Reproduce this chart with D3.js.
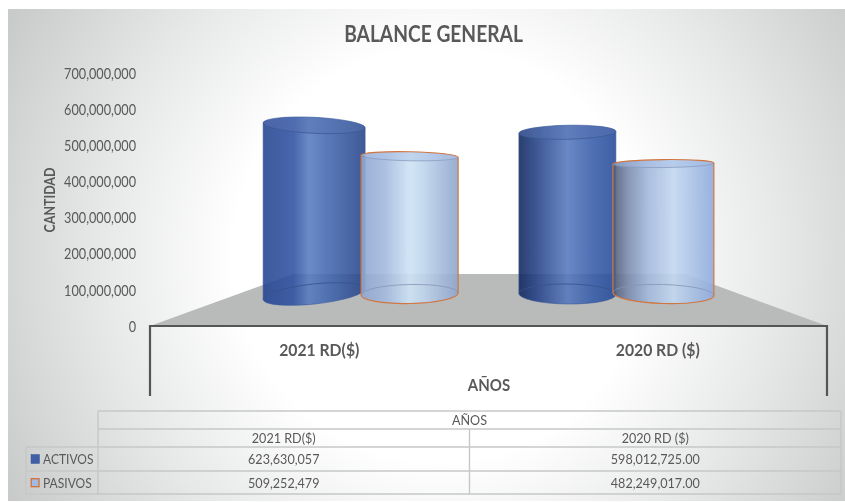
<!DOCTYPE html>
<html>
<head>
<meta charset="utf-8">
<script src="https://cdn.jsdelivr.net/npm/d3@7"></script>
<style>
html,body{margin:0;padding:0;background:#fff}
svg{display:block;filter:blur(0.4px)}
text{font-family:Lato,"Open Sans",sans-serif;fill:#595959}
</style>
</head>
<body>
<svg id="c" width="845" height="502"></svg>
<script>
const categories = ["2021 RD($)", "2020 RD ($)"];
const seriesNames = ["ACTIVOS", "PASIVOS"];
const activos = [623630057, 598012725];
const pasivos = [509252479, 482249017];
const activosLabels = ["623,630,057", "598,012,725.00"];
const pasivosLabels = ["509,252,479", "482,249,017.00"];
const yTicks = [0, 100000000, 200000000, 300000000, 400000000, 500000000, 600000000, 700000000];
const title = "BALANCE GENERAL";
const xTitle = "AÑOS";
const yTitle = "CANTIDAD";

const W = 845, H = 502;
const svg = d3.select("#c");
const defs = svg.append("defs");

// background
const bg = defs.append("radialGradient").attr("id", "bg").attr("gradientUnits", "userSpaceOnUse")
  .attr("cx", 440).attr("cy", 255).attr("r", 490);
[[0, "#ffffff"], [0.42, "#ffffff"], [0.7, "#e6e7e7"], [1, "#c9caca"]].forEach(s =>
  bg.append("stop").attr("offset", s[0]).attr("stop-color", s[1]));
svg.append("rect").attr("x", 8).attr("y", 9).attr("width", W - 8).attr("height", 492).attr("fill", "url(#bg)");

// scales
const valueAxisScale = d3.scaleLinear().domain([0, 700000000]).range([326, 73]);
const heightScale = d3.scaleLinear().domain([0, 700000000]).range([0, 189.35]);
const backX = d3.scaleBand().domain(categories).range([234.5, 743]);
const innerX = d3.scaleBand().domain(seriesNames).range([-97, 97]);
const frontX = d3.scaleBand().domain(categories).range([150, 827]);
const tableX = d3.scaleBand().domain(categories).range([98, 841]);

// floor
const FL = 150, FR = 827, FY = 326, BL = 293, BR = 685, BY = 274;
svg.append("path").attr("fill", "#b9baba")
  .attr("d", d3.line()([[FL, FY], [BL, BY], [BR, BY], [FR, FY]]) + "Z");

// y axis
const yAxis = d3.axisLeft(valueAxisScale).tickValues(yTicks).tickSize(0).tickPadding(0).tickFormat(d3.format(","));
const yg = svg.append("g").attr("transform", "translate(136,0.5)").call(yAxis);
yg.select(".domain").remove();
yg.selectAll("text").attr("x", 0).attr("transform", "scale(0.875,1)")
  .style("font-family", "Lato").style("font-size", "14.5px").attr("fill", "#595959");

// cylinders: perspective geometry per drawn cylinder (series, category order)
const persp = [
  {dx: 1,    w: 102, tTop: 5,  tBase: -11, ryTop: 8,   ryBase: 10},
  {dx: -0.5, w: 97,  tTop: 2,  tBase: -2,  ryTop: 4.5, ryBase: 9.5},
  {dx: 0,    w: 97,  tTop: -2, tBase: 1,   ryTop: 7,   ryBase: 10},
  {dx: -1,   w: 101, tTop: -1, tBase: 3,   ryTop: 4,   ryBase: 9.5}
];
const bodyStops = [
  [[0,"#244391"],[.3,"#2e51a2"],[.45,"#567bc0"],[.62,"#4368af"],[1,"#254388"]],
  [[0,"#8fa6cf"],[.25,"#a4bbdf"],[.5,"#cde3f5"],[.62,"#c2d8ef"],[1,"#8ea5cd"]],
  [[0,"#0e255a"],[.15,"#1f3c81"],[.5,"#5678be"],[.75,"#375da9"],[1,"#254a9a"]],
  [[0,"#4f5b76"],[.15,"#7b8cae"],[.35,"#a3b9dd"],[.6,"#c3d8f0"],[1,"#8fabde"]]
];
const topFill = ["#3f60a8", "#a8c0e6", "#3f60a8", "#9fb9e4"];
const BASE_Y = 294;

const cyl = [];
categories.forEach((c, i) => {
  cyl.push({cat: c, s: seriesNames[0], v: activos[i], idx: i * 2, pas: false});
  cyl.push({cat: c, s: seriesNames[1], v: pasivos[i], idx: i * 2 + 1, pas: true});
});

function arc(x1, y1, x2, y2, ry, sweep) {
  const rx = Math.hypot(x2 - x1, y2 - y1) / 2;
  const rot = Math.atan2(y2 - y1, x2 - x1) * 180 / Math.PI;
  return `A${rx} ${ry} ${rot} 0 ${sweep} ${x2} ${y2}`;
}

cyl.forEach(d => {
  const p = persp[d.idx];
  const cx = backX(d.cat) + backX.bandwidth() / 2 + innerX(d.s) + innerX.bandwidth() / 2 + p.dx;
  const L = cx - p.w / 2, R = cx + p.w / 2;
  const yT = BASE_Y - heightScale(d.v);
  const lt = yT - p.tTop / 2, rt = yT + p.tTop / 2;
  const lb = BASE_Y - p.tBase / 2, rb = BASE_Y + p.tBase / 2;

  const g = defs.append("linearGradient").attr("id", "b" + d.idx);
  bodyStops[d.idx].forEach(s => g.append("stop").attr("offset", s[0]).attr("stop-color", s[1]));

  const grp = svg.append("g").attr("opacity", d.pas ? 0.9 : 0.88);
  const sil = `M${L} ${lt}` + arc(L, lt, R, rt, p.ryTop, 1) + `L${R} ${rb}` + arc(R, rb, L, lb, p.ryBase, 1) + "Z";
  grp.append("path").attr("d", sil).attr("fill", `url(#b${d.idx})`);
  // top face
  grp.append("path").attr("d", `M${L} ${lt}` + arc(L, lt, R, rt, p.ryTop, 1) + arc(R, rt, L, lt, p.ryTop, 1) + "Z")
    .attr("fill", topFill[d.idx]).attr("fill-opacity", 0.5);
  // inner arcs
  const innerCol = d.pas ? "#7f92b8" : "#234488";
  grp.append("path").attr("d", `M${L} ${lt}` + arc(L, lt, R, rt, p.ryTop, 0)).attr("fill", "none")
    .attr("stroke", innerCol).attr("stroke-width", 0.8);
  grp.append("path").attr("d", `M${L} ${lb}` + arc(L, lb, R, rb, p.ryBase, 1)).attr("fill", "none")
    .attr("stroke", innerCol).attr("stroke-width", 0.8);
  if (d.pas) {
    svg.append("path").attr("d", sil).attr("fill", "none").attr("stroke", "#d2763f").attr("stroke-width", 1.2);
  } else {
    svg.append("path").attr("d", sil).attr("fill", "none").attr("stroke", "#3a5a9c").attr("stroke-width", 0.6);
  }
});

// axes lines
const axisCol = "#555555";
svg.append("path").attr("fill", "none").attr("stroke", axisCol).attr("stroke-width", 2.2)
  .attr("d", d3.line()([[FL, 396], [FL, FY], [FR, FY], [FR, 396]]));

// labels
function txt(x, y, s, size, bold, anchor, sx) {
  return svg.append("text").attr("transform", `translate(${x},${y}) scale(${sx || 0.9},1)`).attr("dy", "0.35em")
    .attr("text-anchor", anchor || "middle").style("font-size", size + "px")
    .style("font-weight", bold ? 700 : 400).text(s);
}
txt(433.5, 34, title, 22, true, "middle", 0.873);
categories.forEach(c => txt(frontX(c) + frontX.bandwidth() / 2, 350, c, 17.5, true, "middle", 0.9));
txt(489, 385, xTitle, 16.5, true, "middle", 0.91);
svg.append("text").attr("transform", "translate(50,200) rotate(-90) scale(0.86,1)").attr("dy", "0.35em")
  .attr("text-anchor", "middle").style("font-size", "14.5px").style("font-weight", 700).text(yTitle);

// data table
const tLine = "#c6c7c7";
const rowY = [411, 429, 447, 471, 494];
const tbl = svg.append("g").attr("stroke", tLine).attr("stroke-width", 1.4).attr("fill", "none");
const line = (x1, y1, x2, y2) => tbl.append("line").attr("x1", x1).attr("y1", y1).attr("x2", x2).attr("y2", y2);
line(98, rowY[0], 841, rowY[0]);
line(98, rowY[1], 841, rowY[1]);
line(26, rowY[2], 841, rowY[2]);
line(26, rowY[3], 841, rowY[3]);
line(26, rowY[4], 841, rowY[4]);
line(26, rowY[2], 26, rowY[4]);
line(98, rowY[0], 98, rowY[4]);
line(841, rowY[0], 841, rowY[4]);
line(tableX(categories[1]), rowY[1], tableX(categories[1]), rowY[4]);

txt(469.5, 420, xTitle, 14, false);
categories.forEach((c, i) => {
  const m = tableX(c) + tableX.bandwidth() / 2;
  txt(m, 438, c, 14, false);
  txt(m, 459, activosLabels[i], 14, false);
  txt(m, 483, pasivosLabels[i], 14, false);
});
svg.append("rect").attr("x", 31).attr("y", 454.5).attr("width", 8.5).attr("height", 9).attr("fill", "#3f5fa6").attr("stroke", "#3a5a9c").attr("stroke-width", .5);
svg.append("rect").attr("x", 31.2).attr("y", 478.7).attr("width", 7.8).attr("height", 8).attr("fill", "#a3bbe2").attr("stroke", "#d2703a").attr("stroke-width", 1.3);
txt(43, 459, seriesNames[0], 14, false, "start", 0.86);
txt(43, 483, seriesNames[1], 14, false, "start", 0.86);
</script>
</body>
</html>
